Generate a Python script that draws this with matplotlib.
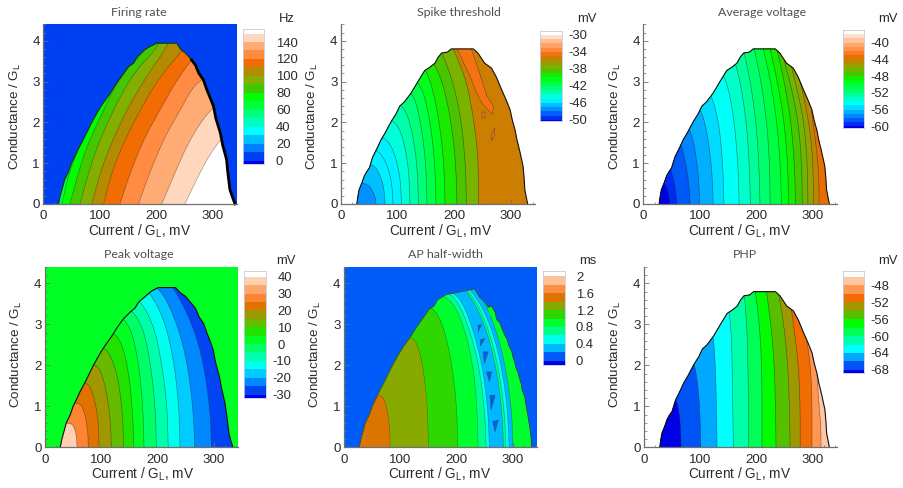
import numpy as np
import matplotlib
matplotlib.use("Agg")
import matplotlib.pyplot as plt
from matplotlib.colors import LinearSegmentedColormap
from matplotlib.patches import Polygon
from matplotlib.ticker import MultipleLocator

plt.rcParams['font.family'] = ['Liberation Sans', 'DejaVu Sans']
plt.rcParams['mathtext.default'] = 'regular'
plt.rcParams['axes.unicode_minus'] = False

W, H = 904, 488

# Domain borders (current, conductance)
narrow_I = [28, 30, 32, 37, 41, 45, 50, 56, 65, 71, 78, 84, 90, 97, 104, 112, 124, 136, 148, 157, 166, 172, 178, 188, 195, 234, 242, 254, 266, 275, 284, 292, 299, 303, 308, 311, 316, 322, 324, 325, 330]
narrow_G = [0, .2, .35, .52, .68, .78, .88, 1.15, 1.4, 1.58, 1.74, 1.9, 2.05, 2.2, 2.4, 2.5, 2.72, 3.0, 3.27, 3.35, 3.45, 3.6, 3.7, 3.72, 3.8, 3.8, 3.7, 3.45, 3.33, 3.1, 2.8, 2.55, 2.31, 2.05, 1.8, 1.58, 1.3, .92, .6, .35, 0]
firing_I = [27, 30, 33, 38, 45, 50, 56, 62, 68, 77, 86, 96, 106, 118, 130, 140, 151, 160, 166, 180, 188, 201, 237, 243, 252, 263, 270, 276, 284, 290, 296, 302, 306, 314, 318, 325, 327, 331, 336, 340]
firing_G = [0, .2, .35, .6, .8, 1, 1.17, 1.35, 1.5, 1.75, 2, 2.25, 2.47, 2.7, 2.96, 3.15, 3.37, 3.45, 3.6, 3.78, 3.85, 3.94, 3.94, 3.8, 3.7, 3.53, 3.4, 3.2, 3.04, 2.8, 2.6, 2.39, 2.1, 1.74, 1.45, 1.09, .8, .35, .15, 0]
peak_I = [27, 30, 33, 38, 45, 50, 56, 62, 68, 77, 86, 96, 106, 118, 130, 139, 152, 160, 166, 183, 190, 201, 232, 240, 250, 261, 268, 274, 282, 288, 294, 299, 303, 310, 314, 320, 323, 327, 331, 334]
peak_G = [0, .2, .35, .6, .8, 1, 1.17, 1.35, 1.5, 1.75, 2, 2.25, 2.47, 2.7, 2.96, 3.13, 3.31, 3.4, 3.54, 3.74, 3.82, 3.9, 3.9, 3.78, 3.68, 3.5, 3.38, 3.18, 3.02, 2.78, 2.58, 2.37, 2.08, 1.72, 1.43, 1.07, .78, .33, .13, 0]
width_I = [27, 30, 33, 38, 45, 50, 56, 62, 68, 77, 86, 96, 106, 118, 130, 140, 151, 160, 166, 180, 188, 201, 218, 232, 241, 250, 256, 262, 268, 271, 276, 281, 285, 290, 292, 298, 300, 303, 305, 309, 311, 315, 316, 321, 322, 326, 329, 332, 333]
width_G = [0, .2, .35, .6, .8, 1, 1.17, 1.35, 1.5, 1.75, 2, 2.25, 2.47, 2.7, 2.96, 3.15, 3.37, 3.45, 3.6, 3.72, 3.75, 3.78, 3.83, 3.87, 3.66, 3.55, 3.42, 3.45, 3.3, 3.12, 3.05, 2.88, 2.75, 2.62, 2.5, 2.33, 2.2, 2.07, 1.95, 1.82, 1.7, 1.53, 1.4, 1.22, 1.1, .8, .55, .25, 0]

# Firing rate: isolines, value of the band to the right of each
firing_levels = list(range(0, 151, 10))
firing_values = [75, 85, 95, 105, 115, 125, 135, 145, 155]
firing_curves = [
    ([33, 44, 59, 86, 118, 154, 150], [0, .68, 1.25, 2.07, 2.88, 3.45, 3.7]),
    ([47, 62, 77, 107, 136, 183, 180], [0, .76, 1.41, 2.31, 3.13, 3.78, 4.2]),
    ([65, 80, 98, 127, 160, 207, 205], [0, .76, 1.49, 2.39, 3.21, 3.9, 4.2]),
    ([86, 101, 118, 148, 183, 222, 225], [0, .76, 1.41, 2.31, 3.13, 3.9, 4.2]),
    ([107, 121, 142, 172, 207, 246, 255], [0, .76, 1.49, 2.31, 3.13, 3.74, 4.0]),
    ([136, 154, 178, 207, 237, 263, 275], [0, .76, 1.58, 2.31, 3.04, 3.53, 3.75]),
    ([169, 186, 213, 243, 266, 281, 300], [0, .68, 1.58, 2.31, 2.88, 3.04, 3.3]),
    ([210, 231, 254, 278, 300, 325], [0, .68, 1.41, 1.98, 2.35, 2.6]),
    ([251, 272, 290, 314, 335], [0, .6, 1.09, 1.58, 1.9]),
]

# Spike threshold: isolines, value of the band to the left of each
thresh_levels = list(range(-50, -29))
thresh_values = [-37.5, -38.5, -39.5, -40.5, -41.5, -42.5, -43.5, -44.5, -45.5, -45.5, -46.5, -47.5]
thresh_curves = [
    ([243, 243, 240, 233, 222, 205, 195], [0, .8, 1.5, 2.2, 3, 3.6, 3.9]),
    ([222, 220, 213, 200, 182, 170], [0, 1, 2, 2.9, 3.6, 3.9]),
    ([205, 203, 195, 180, 160, 150], [0, 1, 2, 3, 3.55, 3.7]),
    ([184, 182, 174, 160, 145, 135], [0, 1, 2, 2.95, 3.4, 3.5]),
    ([168, 166, 158, 145, 128], [0, 1, 2, 2.8, 3.1]),
    ([152, 150, 142, 130, 113], [0, 1, 1.9, 2.65, 2.8]),
    ([137, 135, 127, 115, 98], [0, .9, 1.7, 2.3, 2.5]),
    ([122, 120, 112, 100, 82], [0, .8, 1.5, 1.95, 2.1]),
    ([107, 105, 97, 84, 68], [0, .6, 1.15, 1.55, 1.65]),
    ([92, 90, 82, 70, 55], [0, .5, .95, 1.25, 1.35]),
    ([78, 76, 68, 58, 45], [0, .4, .75, .95, 1.0]),
    ([62, 60, 52, 44, 33], [0, .2, .42, .5, .5]),
]
# Patches of higher threshold near the top
thresh_patch_value = -34.5
thresh_patches = [
    ([202, 228, 240, 249, 267, 270, 258, 249, 237, 228, 202], [3.9, 3.13, 2.72, 2.47, 2.2, 2.39, 2.64, 3.04, 3.53, 3.9, 3.9]),
    ([250, 255, 255, 250], [2.1, 2.1, 2.25, 2.25]),
    ([266, 272, 271, 266], [1.55, 1.7, 1.85, 1.7]),
]

# Average voltage
average_levels = list(range(-60, -37))
average_values = [-44.5, -45.5, -46.5, -47.5, -48.5, -49.5, -50.5, -51.5, -52.5, -53.5, -54.5, -55.5, -56.5, -57.5, -58.5, -59.5, -60.5]
average_curves = [
    ([312, 311, 306, 298], [0, .8, 1.5, 2.3]),
    ([302, 301, 296, 285, 278], [0, 1, 1.8, 2.6, 3]),
    ([292, 291, 285, 273, 262], [0, 1, 2, 2.8, 3.4]),
    ([282, 281, 275, 262, 250], [0, 1, 2, 2.9, 3.5]),
    ([270, 268, 262, 250, 236], [0, 1, 2, 3, 3.85]),
    ([258, 256, 250, 238, 224], [0, 1, 2, 3, 3.85]),
    ([245, 243, 237, 226, 212], [0, 1, 2, 3, 3.85]),
    ([225, 224, 219, 209, 196], [0, 1, 2, 3, 3.85]),
    ([207, 205, 200, 190, 178], [0, 1, 2, 3, 3.75]),
    ([190, 188, 183, 172, 162], [0, 1, 2, 3, 3.5]),
    ([170, 168, 160, 148, 135], [0, 1, 2.2, 3, 3.3]),
    ([143, 141, 134, 120, 105], [0, 1, 2, 2.72, 2.85]),
    ([124, 122, 114, 103, 90], [0, .8, 1.7, 2.3, 2.5]),
    ([100, 98, 90, 80, 70], [0, .7, 1.5, 1.9, 2.0]),
    ([83, 81, 74, 65, 55], [0, .5, 1.1, 1.55, 1.7]),
    ([59, 57, 50, 42, 35], [0, .4, .8, 1, 1.1]),
    ([47, 44, 38, 30], [0, .3, .5, .6]),
]

# Peak voltage
peak_levels = list(range(-30, 41, 5))
peak_values = [-22.5, -17.5, -12.5, -7.5, -2.5, 2.5, 7.5, 12.5, 17.5, 22.5, 27.5, 37.5]
peak_curves = [
    ([296, 294, 285, 270, 245, 225], [0, .8, 1.8, 2.7, 3.5, 3.95]),
    ([266, 264, 255, 240, 215, 195], [0, .8, 1.9, 2.8, 3.65, 3.95]),
    ([240, 238, 230, 215, 190, 175], [0, 1, 2, 3, 3.72, 3.85]),
    ([219, 217, 208, 195, 172, 155], [0, 1, 2, 2.9, 3.55, 3.6]),
    ([198, 196, 188, 175, 155, 140], [0, 1, 2, 2.9, 3.35, 3.4]),
    ([176, 174, 167, 155, 140, 125], [0, 1, 2, 2.8, 3.15, 3.2]),
    ([158, 156, 150, 140, 127, 110], [0, .8, 1.7, 2.4, 2.75, 2.85]),
    ([140, 138, 131, 121, 109, 92], [0, .8, 1.6, 2.1, 2.4, 2.5]),
    ([118, 116, 110, 103, 95, 78], [0, .7, 1.3, 1.7, 1.97, 2.05]),
    ([96, 95, 90, 84, 77, 62], [0, .6, 1.05, 1.35, 1.55, 1.6]),
    ([77, 76, 72, 66, 60, 45], [0, .4, .75, 1, 1.07, 1.1]),
    ([57, 56, 53, 49, 45, 33], [0, .25, .45, .55, .58, .6]),
]

# AP half-width
width_levels = [0, .2, .4, .6, .8, 1, 1.2, 1.4, 1.6, 1.8, 2]
width_values = [.3, .5, .7, .3, .5, .7, .9, 1.1, 1.3, 1.5]
width_curves = [
    ([300, 298, 290, 276, 258, 240, 225], [0, .8, 1.7, 2.6, 3.3, 3.75, 3.95]),
    ([293, 291, 283, 269, 250, 232, 218], [0, .8, 1.7, 2.6, 3.3, 3.7, 3.95]),
    ([287, 285, 277, 263, 244, 227, 214], [0, .8, 1.7, 2.6, 3.3, 3.7, 3.95]),
    ([283, 281, 273, 259, 240, 223, 210], [0, .8, 1.7, 2.6, 3.3, 3.7, 3.95]),
    ([258, 256, 248, 233, 215, 200, 185], [0, .8, 1.8, 2.7, 3.4, 3.72, 3.8]),
    ([252, 250, 242, 227, 208, 192, 178], [0, .8, 1.8, 2.7, 3.4, 3.72, 3.8]),
    ([238, 236, 229, 214, 195, 175, 160], [0, 1, 2, 2.9, 3.5, 3.72, 3.7]),
    ([202, 200, 192, 178, 160, 140], [0, 1, 2, 2.9, 3.4, 3.45]),
    ([150, 148, 141, 132, 123, 105], [0, 1, 1.9, 2.45, 2.67, 2.7]),
    ([82, 81, 77, 72, 67, 52], [0, .5, .9, 1.15, 1.26, 1.3]),
]
width_blob_value = .1
width_blobs = [
    ([238, 244, 238], [2.98, 3.0, 2.82]),
    ([242, 250, 242], [2.62, 2.66, 2.47]),
    ([247, 256, 249], [2.33, 2.33, 2.05]),
    ([253, 262, 258], [1.84, 1.84, 1.6]),
    ([259, 268, 261], [1.27, 1.27, .91]),
    ([264, 274, 268], [.63, .67, .38]),
]

# PHP
php_levels = list(range(-68, -45, 2))
php_values = [-49, -51, -53, -55, -57, -59, -61, -63, -65, -67, -69]
php_curves = [
    ([315, 315, 311, 308], [0, .5, 1.1, 1.8]),
    ([299, 299, 298, 294, 285], [0, 1, 1.6, 2.3, 2.9]),
    ([278, 278, 275, 268, 262], [0, 1, 2, 2.8, 3.4]),
    ([260, 259, 256, 249, 238], [0, 1, 2, 3, 3.9]),
    ([235, 234, 232, 226, 217], [0, 1, 2, 3, 3.9]),
    ([210, 210, 208, 203, 197], [0, 1.5, 2.5, 3.3, 3.9]),
    ([186, 186, 185, 183, 178], [0, 1, 2, 3, 3.85]),
    ([159, 158, 157, 155, 150], [0, 1, 2, 2.9, 3.45]),
    ([130, 129, 127, 123, 115], [0, 1, 2, 2.8, 2.9]),
    ([101, 100, 97, 90, 82], [0, .7, 1.4, 2.05, 2.1]),
    ([66, 65, 62, 57, 50], [0, .5, .9, 1.18, 1.25]),
]

cmap = LinearSegmentedColormap.from_list("rainbow_flood", [
    (0.0, "#0000e6"), (0.125, "#0080ff"), (0.25, "#00ffff"), (0.375, "#00ff80"),
    (0.5, "#00ff00"), (0.5625, "#40c800"), (0.625, "#80b000"), (0.6875, "#b08c00"),
    (0.75, "#f06a00"), (0.8125, "#ff8a40"), (0.875, "#ffaa70"), (0.9375, "#ffd4b8"),
    (1.0, "#ffffff")])


def px_box(left, top, right, bottom):
    return [left / W, 1 - bottom / H, (right - left) / W, (bottom - top) / H]


def band_color(levels, value):
    idx = np.searchsorted(levels, value)
    return cmap(idx / len(levels))


def chaikin(xs, ys, n=2):
    # round the corners of a read-off isoline, ends stay in place
    pts = np.column_stack([xs, ys]).astype(float)
    for _ in range(n):
        q = 0.75 * pts[:-1] + 0.25 * pts[1:]
        r = 0.25 * pts[:-1] + 0.75 * pts[1:]
        mid = np.empty((2 * len(q), 2))
        mid[0::2] = q
        mid[1::2] = r
        pts = np.vstack([pts[0], mid, pts[-1]])
    return pts[:, 0], pts[:, 1]


def draw_panel(box, levels, border, base, curves, values, side, outside=None,
               extras=(), edge_lw=0.8, edge_color="#101010", line_alpha=0.55):
    ax = fig.add_axes(px_box(*box))
    ax.set_xlim(0, 343)
    ax.set_ylim(0, 4.41)
    ax.set_facecolor("white" if outside is None else band_color(levels, outside))
    clip = Polygon(np.column_stack(border), closed=True, transform=ax.transData,
                   facecolor=band_color(levels, base), edgecolor="none", zorder=1)
    ax.add_patch(clip)
    for (cx, cy), val in zip(curves, values):
        sx, sy = chaikin(cx, cy)
        far = 0 if side == "left" else 420
        # close the band over the top, outside the domain
        poly = ax.fill(np.r_[sx, sx[-1], far, far], np.r_[sy, 5, 5, 0],
                       color=band_color(levels, val), lw=0, zorder=2)[0]
        poly.set_clip_path(clip)
        ln = ax.plot(sx, sy, color="#202020", lw=0.45, alpha=line_alpha, zorder=3)[0]
        ln.set_clip_path(clip)
    for shapes, val in extras:
        for sx, sy in shapes:
            poly = ax.fill(sx, sy, color=band_color(levels, val), lw=0.3,
                           ec="#404040", zorder=4)[0]
            poly.set_clip_path(clip)
    ax.plot(border[0], border[1], color=edge_color, lw=edge_lw, zorder=5, clip_on=False)
    for s in ("top", "right"):
        ax.spines[s].set_visible(False)
    for s in ("left", "bottom"):
        ax.spines[s].set_color("#707070")
        ax.spines[s].set_linewidth(0.9)
        ax.spines[s].set_zorder(6)
    ax.xaxis.set_major_locator(MultipleLocator(100))
    ax.xaxis.set_minor_locator(MultipleLocator(20))
    ax.yaxis.set_major_locator(MultipleLocator(1))
    ax.yaxis.set_minor_locator(MultipleLocator(0.2))
    ax.tick_params(which="major", direction="in", length=3.5, width=0.6, color="#707070",
                   labelsize=9.6, labelcolor="#2a2a2a")
    ax.tick_params(axis="x", which="major", pad=4.5)
    ax.tick_params(axis="y", which="major", pad=2.5)
    ax.tick_params(which="minor", direction="in", length=1.8, width=0.5, color="#707070")
    return ax


def draw_legend(box, levels, ymin, ymax, labels, pad, unit, unit_xy, hang=False):
    ax = fig.add_axes(px_box(*box))
    edges = [ymin] + list(levels) + [ymax]
    for i in range(len(edges) - 1):
        ax.bar(0.5, edges[i + 1] - edges[i], bottom=edges[i], width=1,
               color=cmap(i / (len(edges) - 2)), lw=0)
    ax.set_xlim(0, 1)
    ax.set_ylim(ymin, ymax)
    ax.set_xticks([])
    ax.set_yticks([])
    for s in ax.spines.values():
        s.set_color("#c0cce0")
        s.set_linewidth(0.6)
    for lab in labels:
        shift = -4.5 if (hang and lab < 0) else 0
        ax.annotate(f"{lab:g}", (1, lab), xycoords=("axes fraction", "data"),
                    xytext=((pad + shift) * 0.72, 0), textcoords="offset points",
                    va="center_baseline", ha="left", fontsize=9.4, color="#2a2a2a",
                    annotation_clip=False)
    fig.text(unit_xy[0] / W, 1 - unit_xy[1] / H, unit, ha="center", va="center",
             fontsize=9.4, color="#2a2a2a")


def titles(title, t_xy, xl_xy, yl_xy):
    fig.text(t_xy[0] / W, 1 - t_xy[1] / H, title, ha="center", va="center",
             fontsize=8.9, color="#505050", family=["Lato", "DejaVu Sans"])
    fig.text(xl_xy[0] / W, 1 - xl_xy[1] / H, r"Current / G$_{L}$, mV", ha="center", va="center",
             fontsize=9.8, color="#2a2a2a")
    fig.text(yl_xy[0] / W, 1 - yl_xy[1] / H, r"Conductance / G$_{L}$", ha="center", va="center",
             rotation=90, fontsize=9.6, color="#2a2a2a")


fig = plt.figure(figsize=(W / 100, H / 100), dpi=100)

# Top row
ax = draw_panel((43.3, 24, 236.7, 204), firing_levels, (firing_I, firing_G), 65, firing_curves,
                firing_values, "right", outside=5, edge_lw=0.8, edge_color="#103010", line_alpha=0.45)
ax.plot(firing_I[25:], firing_G[25:], color="black", lw=2.0, zorder=5, clip_on=False)
draw_legend((243, 29.3, 264.3, 164), firing_levels, -4, 155, list(range(0, 141, 20)), 11.7,
            "Hz", (287, 19))
titles("Firing rate", (139, 12), (140, 231.5), (15, 116))

draw_panel((341, 24, 535, 204), thresh_levels, (narrow_I, narrow_G), -35.5, thresh_curves,
           thresh_values, "left", extras=[(thresh_patches, thresh_patch_value)])
draw_legend((540, 30.7, 561.7, 121), thresh_levels, -50.25, -29, list(range(-50, -29, 4)), 6.5,
            "mV", (587, 19))
titles("Spike threshold", (459, 12), (441, 231), (312, 116))

draw_panel((643.3, 24, 836.7, 204), average_levels, (narrow_I, narrow_G), -43.5, average_curves,
           average_values, "left")
draw_legend((843.3, 30, 864.3, 128), average_levels, -60.4, -37, list(range(-60, -39, 4)), 5.7,
            "mV", (888, 19))
titles("Average voltage", (762, 12), (740, 231), (615, 116))

# Bottom row
draw_panel((45, 266.7, 238, 447.3), peak_levels, (peak_I, peak_G), -27.5, peak_curves,
           peak_values, "left", outside=2.5, line_alpha=0.5)
draw_legend((244.3, 271.3, 266, 398.3), peak_levels, -32.2, 43.2, list(range(-30, 41, 10)), 11.3,
            "mV", (286, 261), hang=True)
titles("Peak voltage", (138.7, 254), (143, 474), (16, 354))

draw_panel((344, 266.7, 537.3, 447.3), width_levels, (width_I, width_G), .9, width_curves,
           width_values, "left", outside=.1, extras=[(width_blobs, width_blob_value)],
           edge_lw=0.6, edge_color="#304030", line_alpha=0.4)
draw_legend((543.3, 271.3, 565, 364.7), width_levels, -.095, 2.12, [0, .4, .8, 1.2, 1.6, 2], 11,
            "ms", (588, 261))
titles("AP half-width", (445, 254), (440, 474), (315, 354))

draw_panel((644, 266.7, 836.7, 447.3), php_levels, (narrow_I, narrow_G), -47, php_curves,
           php_values, "left")
draw_legend((843.3, 271.3, 864.3, 373.3), php_levels, -68.8, -44.7, list(range(-68, -47, 4)), 6.4,
            "mV", (888, 261))
titles("PHP", (745, 254), (740, 474), (615, 354))

fig.savefig("out.png", dpi=100)
